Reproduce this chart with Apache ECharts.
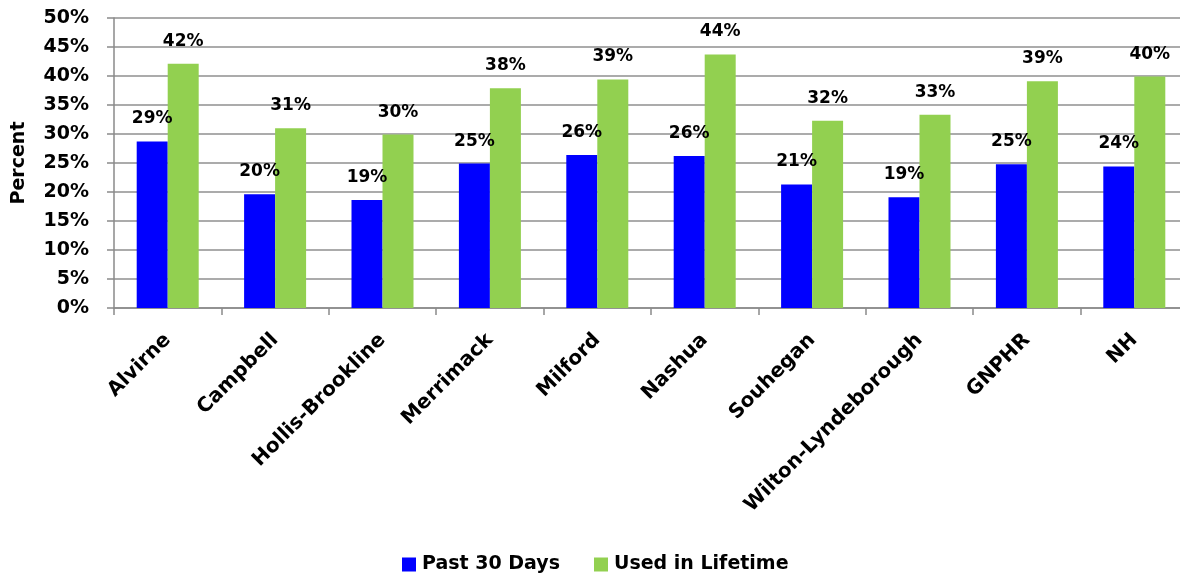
<!DOCTYPE html>
<html>
<head>
<meta charset="utf-8">
<title>Percent by school district</title>
<script src="https://cdn.jsdelivr.net/npm/echarts@6/dist/echarts.min.js"></script>
<style>
  html, body { margin: 0; padding: 0; background: #ffffff; }
  #chart { width: 1180px; height: 575px; }
</style>
</head>
<body>
<div id="chart"></div>
<script>
// Districts along the x axis
const categories = ['Alvirne', 'Campbell', 'Hollis-Brookline', 'Merrimack', 'Milford',
  'Nashua', 'Souhegan', 'Wilton-Lyndeborough', 'GNPHR', 'NH'];

// Percent values per district
const past30Days = [28.7, 19.6, 18.6, 24.9, 26.4, 26.2, 21.3, 19.1, 24.8, 24.4];
const usedInLifetime = [42.1, 31.0, 29.9, 37.9, 39.4, 43.7, 32.3, 33.3, 39.1, 39.9];

const seriesNames = ['Past 30 Days', 'Used in Lifetime'];

// Value axis ticks
const yMin = 0, yMax = 50, yStep = 5;

const FONT = 'DejaVu Sans';
const chart = echarts.init(document.getElementById('chart'), null, { renderer: 'canvas' });

const pctLabel = {
  show: true,
  position: 'top',
  distance: 14,
  color: '#000',
  fontFamily: FONT,
  fontWeight: 'bold',
  fontSize: 17,
  formatter: p => Math.round(p.value) + '%'
};

chart.setOption({
  animation: false,
  backgroundColor: '#ffffff',
  grid: {
    left: 114, width: 1074, top: 18, bottom: 267,
    containLabel: false,
    outerBoundsMode: 'none'
  },
  legend: {
    left: 402,
    top: 555,
    padding: 0,
    itemWidth: 14,
    itemHeight: 14,
    itemGap: 34,
    icon: 'rect',
    textStyle: { fontFamily: FONT, fontWeight: 'bold', fontSize: 19, color: '#000', padding: [0, 0, 0, 1] },
    data: seriesNames
  },
  xAxis: {
    type: 'category',
    data: categories,
    boundaryGap: true,
    axisLine: { show: true, lineStyle: { color: '#8a8a8a', width: 1.5 } },
    axisTick: { show: true, length: 7, alignWithLabel: false, lineStyle: { color: '#8a8a8a', width: 1.5 } },
    axisLabel: {
      interval: 0,
      rotate: 45,
      margin: 29,
      color: '#000',
      fontFamily: FONT,
      fontWeight: 'bold',
      fontSize: 20
    }
  },
  yAxis: {
    type: 'value',
    min: yMin,
    max: yMax,
    interval: yStep,
    name: 'Percent',
    nameLocation: 'middle',
    nameGap: 85,
    nameRotate: 90,
    nameTextStyle: { fontFamily: FONT, fontWeight: 'bold', fontSize: 19, color: '#000' },
    axisLine: { show: true, lineStyle: { color: '#8a8a8a', width: 1.5 } },
    axisTick: { show: true, length: 7, lineStyle: { color: '#8a8a8a', width: 1.5 } },
    splitLine: { show: true, lineStyle: { color: '#8f8f8f', width: 1.5 } },
    axisLabel: {
      margin: 25,
      color: '#000',
      fontFamily: FONT,
      fontWeight: 'bold',
      fontSize: 19,
      formatter: v => v + '%'
    }
  },
  series: [
    {
      name: seriesNames[0],
      type: 'bar',
      data: past30Days,
      barWidth: 31,
      barGap: '0%',
      itemStyle: { color: '#0000ff' },
      label: pctLabel
    },
    {
      name: seriesNames[1],
      type: 'bar',
      data: usedInLifetime,
      barWidth: 31,
      barGap: '0%',
      itemStyle: { color: '#92d050' },
      label: pctLabel
    }
  ]
});
</script>
</body>
</html>
